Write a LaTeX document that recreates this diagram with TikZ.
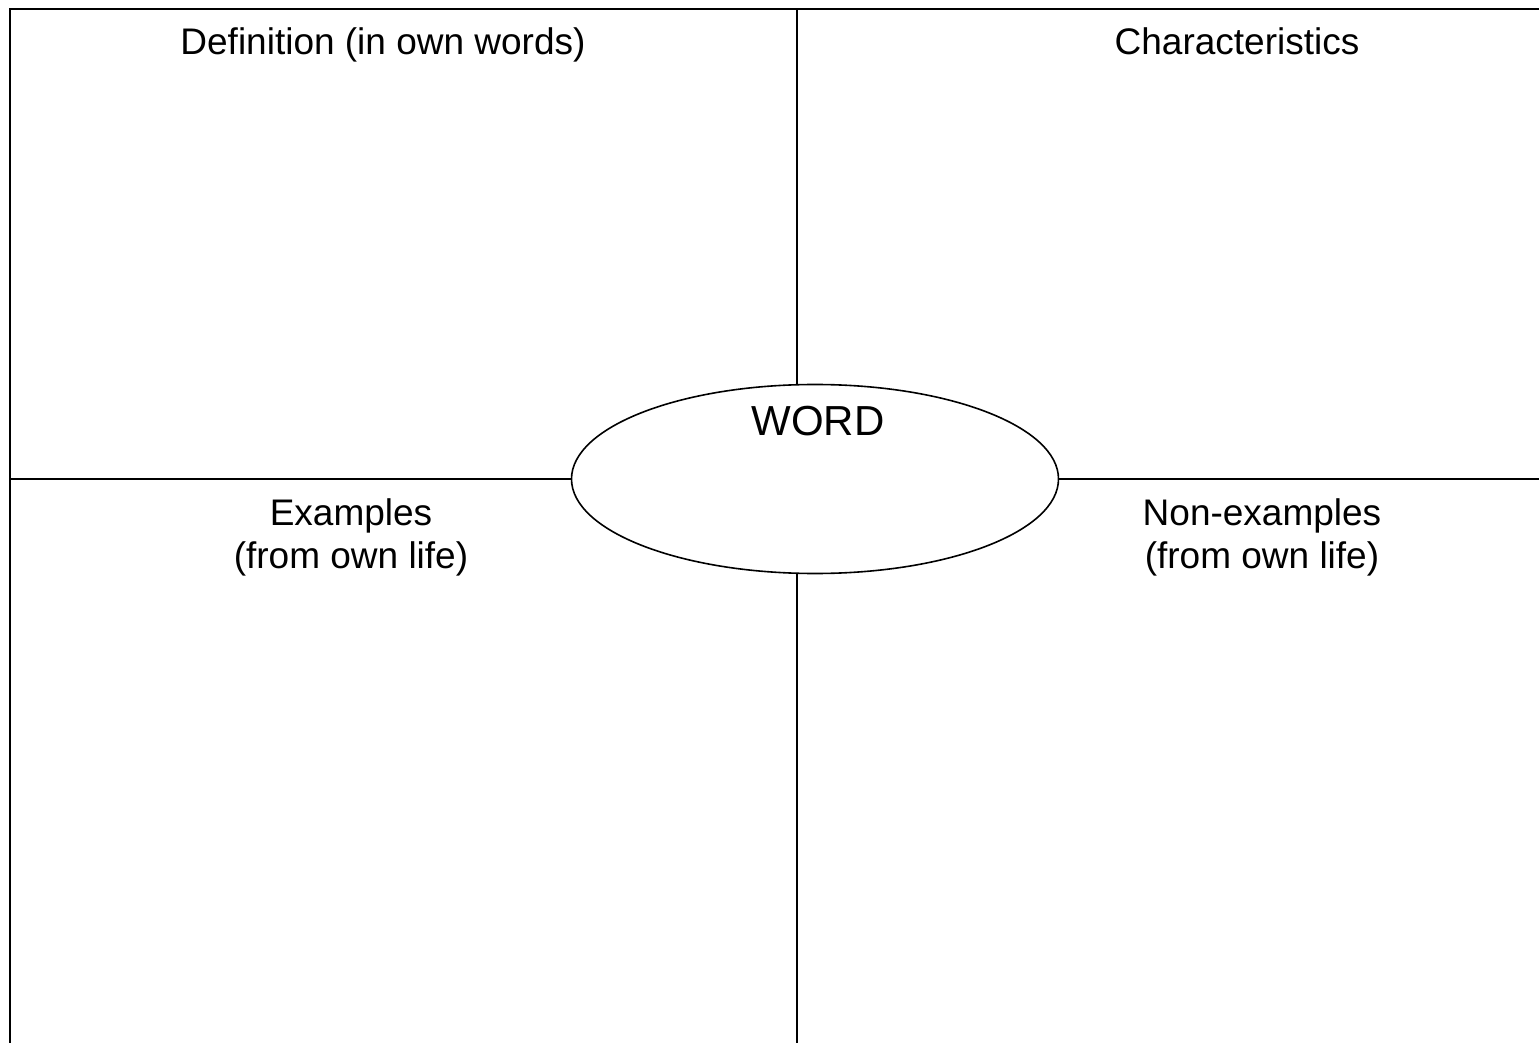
\documentclass[tikz,border=0pt]{standalone}
\usepackage{fontspec}
\setmainfont{Liberation Sans}
\usetikzlibrary{shapes.geometric}

\begin{document}
\begin{tikzpicture}[x=0.5pt, y=-0.5pt,
    divider/.style={line width=0.7pt},
    frameline/.style={line width=1pt},
    heading/.style={anchor=base, align=center, inner sep=0pt,
        font=\fontsize{18.5}{21.5}\selectfont}]
    \useasboundingbox (0,0) rectangle (1539,1043);
    \coordinate (tl) at (10,9);
    \coordinate (tr) at (1539,9);
    \coordinate (bl) at (10,1043);
    \coordinate (midtop) at (797,9);
    \coordinate (midbot) at (797,1043);
    \coordinate (midleft) at (10,479);
    \coordinate (midright) at (1539,479);
    \node[ellipse, draw, line width=0.8pt, minimum width=243.5pt, minimum height=94.5pt, inner sep=0pt] (word) at (815,479) {};
    \draw[frameline] (tr) -- (tl) -- (bl);
    \draw[divider] (midtop) -- (midtop |- word.north);
    \draw[divider] (midbot |- word.south) -- (midbot);
    \draw[divider] (midleft) -- (word.west);
    \draw[divider] (word.east) -- (midright);
    \node[anchor=base, inner sep=0pt, font=\fontsize{21}{24}\selectfont] (wordtext) at (818,436) {WORD};
    \node[heading] (definition) at (383,55) {Definition (in own words)};
    \node[heading] (traits) at (1237,55) {Characteristics};
    \node[heading] (examples) at (351,568) {Examples\\(from own life)};
    \node[heading] (nonexamples) at (1262,568) {Non-examples\\(from own life)};
\end{tikzpicture}
\end{document}
